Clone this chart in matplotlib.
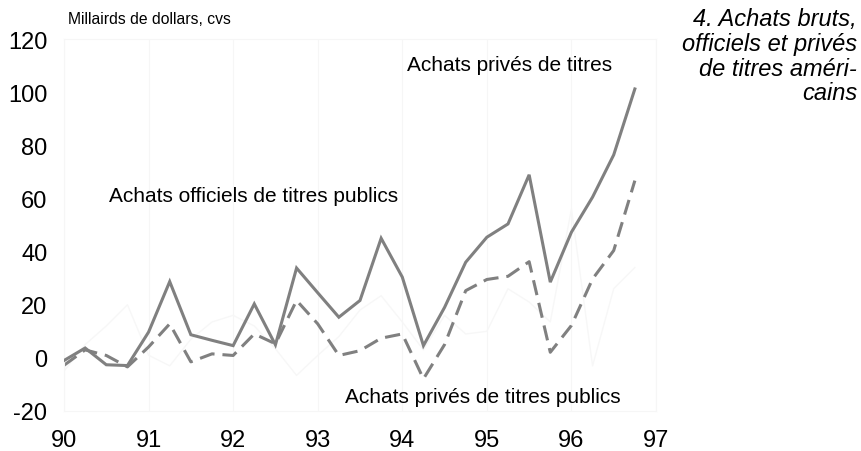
import matplotlib
matplotlib.use("Agg")
import matplotlib.pyplot as plt
import numpy as np

plt.rcParams['font.family'] = ['Liberation Sans', 'DejaVu Sans']
plt.rcParams['axes.unicode_minus'] = False

# trimestres 1990T1 .. 1996T4
quarters = 1990 + np.arange(28) * 0.25

# achats privés de titres (trait plein)
prives_titres = [-1, 3.7, -2.6, -2.9, 9.7, 28.7, 8.7, 6.6,
                 4.6, 20.3, 4.9, 33.8, 24.5, 15.3, 21.6, 45.0,
                 30.4, 4.6, 19.0, 36.0, 45.4, 50.4, 68.9, 28.5,
                 47.3, 60.5, 76.4, 101.2]

# achats privés de titres publics (tirets)
prives_publics = [-2.8, 3.0, 0.9, -3.4, 4.1, 12.8, -1.5, 1.5,
                  0.9, 9.0, 5.3, 21.6, 12.8, 0.9, 2.7, 7.4,
                  9.0, -7.9, 5.0, 25.3, 29.5, 30.7, 36.2, 2.1,
                  12.2, 29.7, 40.4, 66.7]

# achats officiels de titres publics (trait très pâle)
officiels = [-5, 5, 12, 20, 1, -3, 7, 13.5,
             16, 12, 3.4, -6.6, 0.9, 8, 18, 23.4,
             13.5, 3, 16, 9, 10, 26, 21, 13.5,
             56, -3, 26, 34]

years = np.arange(1990, 1998)
year_labels = [str(y)[2:] for y in years]
yticks = np.arange(-20, 121, 20)

fig = plt.figure(figsize=(8.61, 4.52), dpi=100)
ax = fig.add_axes([64 / 861, 1 - 412 / 452, (656 - 64) / 861, (412 - 40) / 452])

for y in years:
    ax.axvline(y, color="#f6f6f6", lw=0.8, zorder=0)

ax.plot(quarters, officiels, color="#f7f7f7", lw=1.0, zorder=1)
ax.plot(quarters, prives_titres, color="#808080", lw=2.2, zorder=3,
        solid_joinstyle="miter")
ax.plot(quarters, prives_publics, color="#808080", lw=2.2, zorder=2,
        dashes=(5, 2.6))

ax.set_xlim(1990, 1997)
ax.set_ylim(-20, 120)
ax.set_xticks(years)
ax.set_xticklabels(year_labels)
ax.set_yticks(yticks)
ax.tick_params(axis="both", length=0, labelsize=17)
ax.tick_params(axis="y", pad=12)
ax.tick_params(axis="x", pad=13)
for s in ax.spines.values():
    s.set_color("#f6f6f6")
    s.set_linewidth(0.8)

ax.text(1990.53, 61, "Achats officiels de titres publics", fontsize=15,
        va="center", ha="left")
ax.text(1994.05, 110.5, "Achats privés de titres", fontsize=15,
        va="center", ha="left")
ax.text(1993.32, -14.5, "Achats privés de titres publics", fontsize=15,
        va="center", ha="left")

fig.text(68 / 861, 1 - 19 / 452, "Millairds de dollars, cvs", fontsize=11.3,
         va="center", ha="left")
fig.text(857 / 861, 1 - 8 / 452,
         "4. Achats bruts,\nofficiels et privés\nde titres améri-\ncains",
         fontsize=17, style="italic", ha="right", va="top", linespacing=1.1)

fig.savefig("out.png", dpi=100)
